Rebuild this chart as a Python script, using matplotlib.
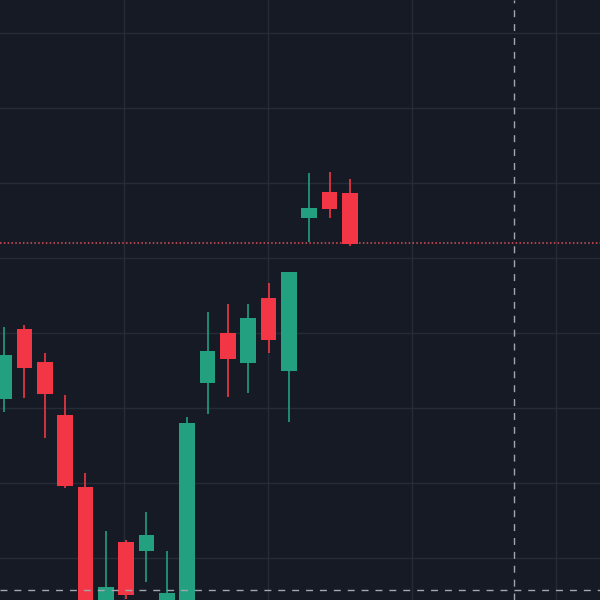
import numpy as np
import matplotlib
matplotlib.use("Agg")
import matplotlib.pyplot as plt

# OHLC (arbitrary price units, grid step = 10)
opens = [221.2, 230.5, 226.1, 219.1, 209.5, 191.0, 202.1, 200.9, 192.0,
         192.0, 223.3, 230.0, 226.0, 234.7, 224.9, 245.3, 248.8, 248.7]
highs = [230.8, 231.1, 227.3, 221.7, 211.3, 203.6, 202.4, 206.1, 200.9,
         218.8, 232.8, 233.9, 233.9, 236.7, 238.1, 251.3, 251.5, 250.5]
lows = [219.5, 221.3, 216.0, 209.4, 190.0, 189.0, 194.6, 196.8, 191.0,
        190.0, 219.2, 221.5, 222.0, 227.3, 218.1, 242.1, 245.3, 241.6]
closes = [227.1, 225.3, 221.9, 209.6, 192.0, 196.1, 195.1, 203.1, 195.3,
          218.0, 227.6, 226.5, 232.0, 229.1, 238.1, 246.7, 246.5, 241.9]

price_levels = [200, 210, 220, 230, 240, 250, 260, 270]
time_grid = [5.9, 12.97, 20.05, 27.12]
last_price = 242.0
cross_x = 25.06
cross_y = 195.7

BG = "#161a25"
GRID = "#262b38"
UP = "#22a07f"
DOWN = "#f23645"

fig = plt.figure(figsize=(6, 6), dpi=100, facecolor=BG)
ax = fig.add_axes([0, 0, 1, 1])
ax.set_facecolor(BG)

x = np.arange(len(opens))
o = np.array(opens)
c = np.array(closes)
colors = [UP if cc >= oo else DOWN for oo, cc in zip(o, c)]

# wicks then bodies
ax.vlines(x, lows, highs, colors=colors, linewidth=1.2, zorder=3)
ax.bar(x, np.abs(c - o), bottom=np.minimum(o, c), width=0.77,
       color=colors, linewidth=0, zorder=4)

for y in price_levels:
    ax.axhline(y, color=GRID, linewidth=1.0, zorder=1)
for gx in time_grid:
    ax.axvline(gx, color=GRID, linewidth=1.0, zorder=1)

# last price line + crosshair
ax.axhline(last_price, color="#e0505a", linewidth=1.1, linestyle=(0, (1, 1.5)), zorder=2)
ax.axhline(cross_y, color="#a3a6af", linewidth=1.0, linestyle=(0, (5, 5)), zorder=5)
ax.axvline(cross_x, color="#a3a6af", linewidth=1.0, linestyle=(0, (5, 5)), zorder=5)

ax.set_xlim(-0.2, 29.29)
ax.set_ylim(194.4, 274.4)
ax.set_xticks([])
ax.set_yticks([])
for s in ax.spines.values():
    s.set_visible(False)

fig.savefig("out.png", dpi=100, facecolor=BG)
